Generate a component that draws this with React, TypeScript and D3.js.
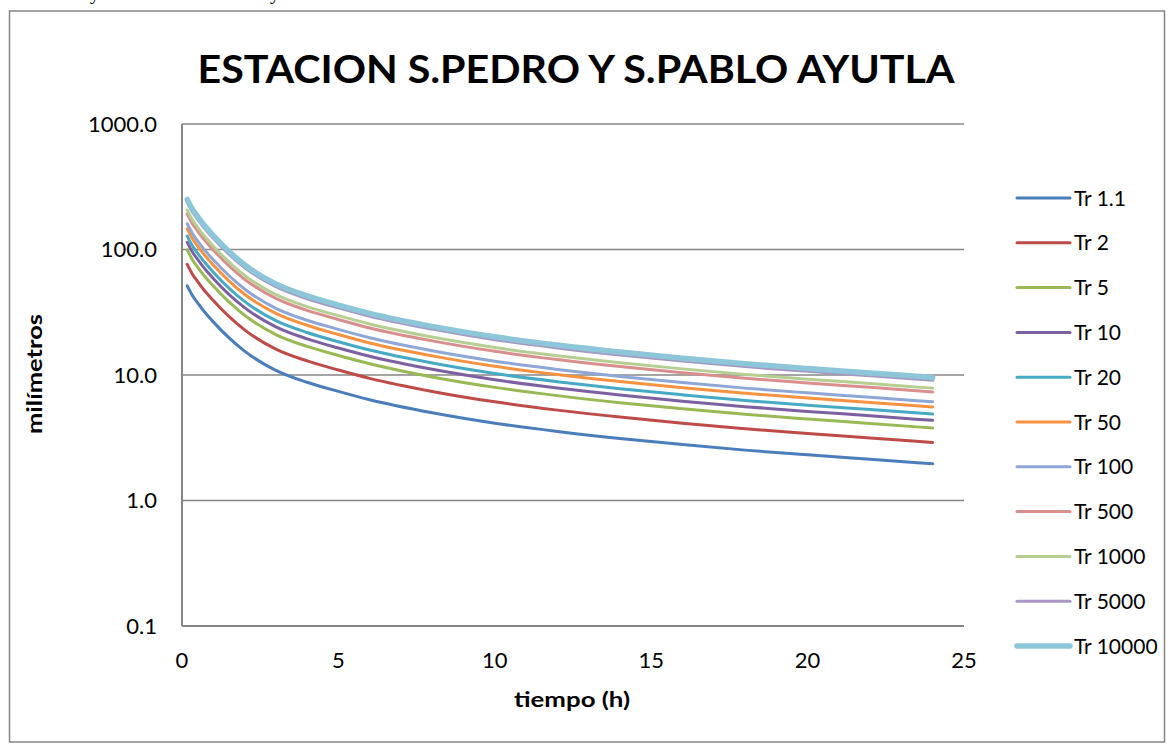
import React from "react";
import * as d3 from "d3";

const times = [0.167, 0.333, 0.5, 0.667, 0.833, 1, 2, 3, 4, 5, 6, 8, 10, 12, 14, 16, 18, 20, 22, 24];

const seriesNames = ["Tr 1.1", "Tr 2", "Tr 5", "Tr 10", "Tr 20", "Tr 50", "Tr 100", "Tr 500", "Tr 1000", "Tr 5000", "Tr 10000"];

const tr1_1 = [51.4, 43, 37.5, 33, 29.5, 26.5, 15.5, 10.9, 8.75, 7.4, 6.35, 5.0, 4.13, 3.55, 3.12, 2.79, 2.52, 2.31, 2.13, 1.96];
const tr2 = [76.1, 63.6, 55.5, 48.8, 43.7, 39.2, 22.9, 16.1, 12.95, 10.95, 9.4, 7.4, 6.11, 5.25, 4.62, 4.13, 3.73, 3.42, 3.15, 2.9];
const tr5 = [99.2, 83.0, 72.4, 63.7, 56.9, 51.1, 29.9, 21.0, 16.9, 14.3, 12.3, 9.65, 7.97, 6.85, 6.02, 5.38, 4.86, 4.46, 4.11, 3.78];
const tr10 = [114.1, 95.5, 83.3, 73.3, 65.5, 58.8, 34.4, 24.2, 19.4, 16.4, 14.1, 11.1, 9.17, 7.88, 6.93, 6.19, 5.59, 5.13, 4.73, 4.35];
const tr20 = [128.0, 107.1, 93.4, 82.2, 73.5, 66.0, 38.6, 27.1, 21.8, 18.4, 15.8, 12.45, 10.28, 8.84, 7.77, 6.95, 6.27, 5.75, 5.3, 4.88];
const tr50 = [146.0, 122.1, 106.5, 93.7, 83.8, 75.3, 44.0, 31.0, 24.9, 21.0, 18.0, 14.2, 11.73, 10.08, 8.86, 7.92, 7.16, 6.56, 6.05, 5.57];
const tr100 = [160.4, 134.2, 117.0, 103.0, 92.0, 82.7, 48.4, 34.0, 27.3, 23.1, 19.8, 15.6, 12.89, 11.08, 9.73, 8.7, 7.86, 7.21, 6.65, 6.12];
const tr500 = [192.2, 160.8, 140.3, 123.4, 110.3, 99.1, 58.0, 40.8, 32.7, 27.7, 23.7, 18.7, 15.45, 13.28, 11.67, 10.43, 9.42, 8.64, 7.97, 7.33];
const tr1000 = [206.1, 172.4, 150.4, 132.3, 118.3, 106.3, 62.2, 43.7, 35.1, 29.7, 25.5, 20.05, 16.56, 14.24, 12.51, 11.19, 10.11, 9.26, 8.54, 7.86];
const tr5000 = [238.0, 199.1, 173.6, 152.8, 136.6, 122.7, 71.8, 50.5, 40.5, 34.3, 29.4, 23.2, 19.12, 16.44, 14.45, 12.92, 11.67, 10.7, 9.86, 9.07];
const tr10000 = [250.8, 209.8, 183.0, 161.0, 144.0, 129.3, 75.6, 53.2, 42.7, 36.1, 31.0, 24.4, 20.15, 17.32, 15.23, 13.62, 12.3, 11.27, 10.39, 9.56];

const seriesValues = [tr1_1, tr2, tr5, tr10, tr20, tr50, tr100, tr500, tr1000, tr5000, tr10000];
const colors = ["#4A7EBB", "#BE4B48", "#98B954", "#7D60A0", "#46AAC5", "#F69240", "#8EA7D6", "#D88F8E", "#B7CE93", "#A797C2", "#8CC6D8"];
const widths = [3, 3, 3, 3, 3, 3, 3, 3, 3, 3, 5.5];

const yTicks = [0.1, 1, 10, 100, 1000];
const xTicks = [0, 5, 10, 15, 20, 25];

const FONT = "Lato, 'Open Sans', sans-serif";

export default function App() {
  const W = 1174, H = 744;
  const left = 182, right = 964, top = 124, bottom = 626;
  const x = d3.scaleLinear().domain([0, 25]).range([left, right]);
  const y = d3.scaleLog().domain([0.1, 1000]).range([bottom, top]);
  const line = d3
    .line<[number, number]>()
    .x((d) => x(d[0]))
    .y((d) => y(d[1]))
    .curve(d3.curveMonotoneX);

  const legendX = 1017, legendY0 = 198, legendStep = 44.8;
  const axisColor = "#868686";

  return (
    <svg width={W} height={H} style={{ position: "absolute", left: 0, top: 0, background: "#fff" }}>
      <rect x={0} y={0} width={W} height={H} fill="#fff" />
      <text x={90} y={-1} fontFamily="'Liberation Serif', serif" fontSize={20}>y</text>
      <text x={270} y={-1} fontFamily="'Liberation Serif', serif" fontSize={20}>y</text>
      <rect x={9.5} y={11} width={1155} height={731} fill="#fff" stroke={axisColor} strokeWidth={1.5} />
      <text
        x={(left + right) / 2 + 3}
        y={83}
        textAnchor="middle"
        fontFamily={FONT}
        fontWeight="bold"
        fontSize={38}
        textLength={757}
        lengthAdjust="spacingAndGlyphs"
      >
        ESTACION S.PEDRO Y S.PABLO AYUTLA
      </text>
      {yTicks.map((t) => (
        <g key={t}>
          {t > 0.1 && (
            <line x1={left} x2={right} y1={y(t)} y2={y(t)} stroke={axisColor} strokeWidth={1.5} />
          )}
          <text x={157} y={y(t) + 7.5} textAnchor="end" fontFamily={FONT} fontSize={22} fill="#000">
            {t.toFixed(1)}
          </text>
        </g>
      ))}
      <line x1={left} x2={left} y1={top} y2={bottom} stroke={axisColor} strokeWidth={2} />
      <line x1={left} x2={right} y1={bottom} y2={bottom} stroke={axisColor} strokeWidth={2} />
      {xTicks.map((t) => (
        <text key={t} x={x(t)} y={668} textAnchor="middle" fontFamily={FONT} fontSize={22} fill="#000">
          {t}
        </text>
      ))}
      <text
        x={572}
        y={707}
        textAnchor="middle"
        fontFamily={FONT}
        fontWeight="bold"
        fontSize={21}
        textLength={116}
        lengthAdjust="spacingAndGlyphs"
      >
        tiempo (h)
      </text>
      <text
        transform={`translate(42, 374) rotate(-90)`}
        textAnchor="middle"
        fontFamily={FONT}
        fontWeight="bold"
        fontSize={21}
        textLength={120}
        lengthAdjust="spacingAndGlyphs"
      >
        milímetros
      </text>
      <g>
        {seriesValues.map((vals, i) => (
          <path
            key={seriesNames[i]}
            d={line(times.map((t, j) => [t, vals[j]] as [number, number])) || ""}
            fill="none"
            stroke={colors[i]}
            strokeWidth={widths[i]}
            strokeLinecap="round"
            strokeLinejoin="round"
          />
        ))}
      </g>
      {seriesNames.map((name, i) => {
        const ly = legendY0 + i * legendStep;
        return (
          <g key={name}>
            <line x1={legendX} x2={legendX + 53} y1={ly} y2={ly} stroke={colors[i]} strokeWidth={widths[i]} strokeLinecap="round" />
            <text x={legendX + 57} y={ly + 7.5} fontFamily={FONT} fontSize={21} fill="#000">
              {name}
            </text>
          </g>
        );
      })}
    </svg>
  );
}
